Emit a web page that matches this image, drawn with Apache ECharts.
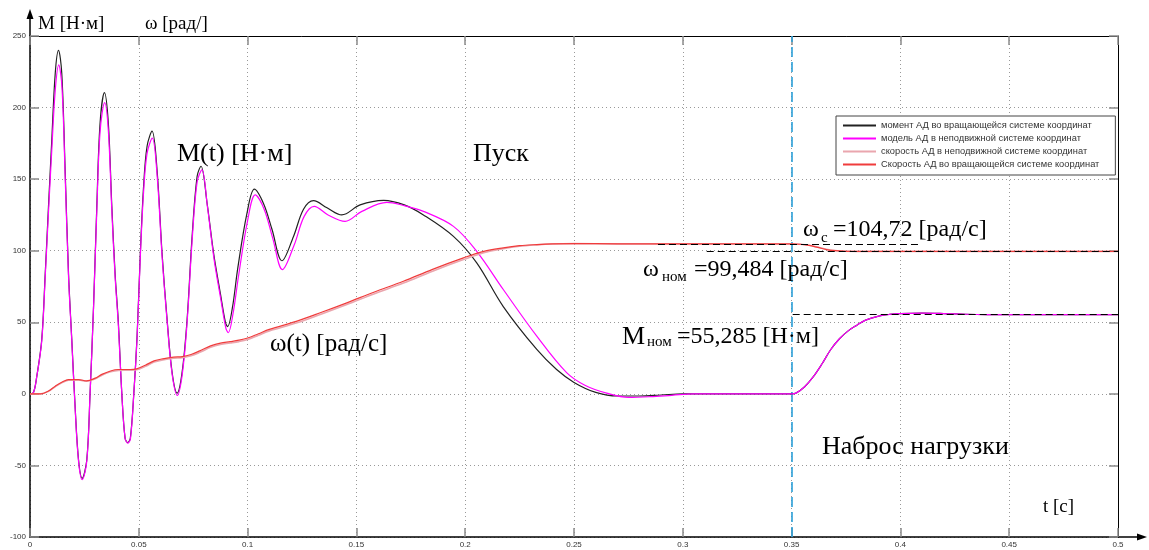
<!DOCTYPE html>
<html>
<head>
<meta charset="utf-8">
<title>Пуск и наброс нагрузки АД</title>
<script src="https://cdn.jsdelivr.net/npm/echarts@6/dist/echarts.min.js"></script>
<style>
  html, body { margin: 0; padding: 0; background: #fff; }
  #main { width: 1149px; height: 550px; }
</style>
</head>
<body>
<div id="main"></div>
<script>
// время и значения, снятые с графика
// момент АД во вращающейся системе координат [Н·м]
const momentT = [0, 0.0016, 0.0031, 0.0054, 0.0070, 0.0085, 0.0100, 0.0116, 0.0131, 0.0146, 0.0162, 0.0177, 0.0192, 0.0207, 0.0223, 0.0240, 0.0261, 0.0276, 0.0292, 0.0307, 0.0322, 0.0342, 0.0360, 0.0376, 0.0391, 0.0406, 0.0422, 0.0437, 0.0449, 0.0461, 0.0477, 0.0492, 0.0507, 0.0522, 0.0538, 0.0561, 0.0584, 0.0607, 0.0630, 0.0653, 0.0676, 0.0699, 0.0722, 0.0745, 0.0768, 0.0786, 0.0814, 0.0844, 0.0875, 0.0898, 0.0908, 0.0930, 0.0955, 0.0997, 0.1031, 0.1073, 0.1112, 0.1158, 0.1211, 0.1257, 0.1303, 0.1365, 0.1433, 0.1517, 0.1625, 0.1720, 0.1808, 0.1946, 0.2053, 0.2175, 0.2329, 0.2420, 0.2500, 0.2600, 0.2700, 0.2800, 0.2900, 0.3000, 0.3500, 0.3520, 0.3560, 0.3600, 0.3640, 0.3680, 0.3720, 0.3760, 0.3800, 0.3840, 0.3900, 0.3950, 0.4000, 0.4100, 0.4200, 0.4300, 0.4400, 0.5000];
const momentV = [0, 1, 12, 38, 84, 131, 177, 224, 240, 224, 154, 84, 38, -8, -46, -59, -46, 0, 61, 131, 189, 210.5, 189, 131, 84, 50, 0, -31, -34, -31, 0, 40, 98, 145, 173, 183.5, 156, 98, 52, 15, 0.5, 15, 52, 110, 152, 159, 133, 98, 70, 50, 47, 60, 88, 126, 143, 133, 115, 93, 110, 129, 135, 130, 125, 132, 135.2, 132, 125, 110, 91.5, 61, 31, 17, 8, 1, -1.5, -1.5, -0.8, 0, 0, 0.5, 5, 12, 21, 31, 38.5, 44, 48, 51.5, 54.3, 55.5, 56.1, 56.4, 56.1, 55.6, 55.4, 55.3];

// модель АД в неподвижной системе координат [Н·м]
const modelT = [0, 0.0016, 0.0031, 0.0054, 0.0070, 0.0085, 0.0100, 0.0116, 0.0132, 0.0147, 0.0162, 0.0177, 0.0192, 0.0207, 0.0223, 0.0240, 0.0261, 0.0276, 0.0292, 0.0307, 0.0322, 0.0343, 0.0360, 0.0376, 0.0391, 0.0406, 0.0422, 0.0437, 0.0450, 0.0462, 0.0477, 0.0492, 0.0507, 0.0522, 0.0538, 0.0562, 0.0584, 0.0607, 0.0630, 0.0653, 0.0677, 0.0700, 0.0722, 0.0745, 0.0768, 0.0790, 0.0816, 0.0846, 0.0877, 0.0900, 0.0911, 0.0933, 0.0958, 0.1000, 0.1035, 0.1076, 0.1115, 0.1160, 0.1214, 0.1260, 0.1306, 0.1370, 0.1448, 0.1525, 0.1640, 0.1720, 0.1808, 0.1946, 0.2053, 0.2175, 0.2329, 0.2466, 0.2550, 0.2650, 0.2750, 0.2850, 0.2950, 0.3050, 0.3500, 0.3520, 0.3560, 0.3600, 0.3640, 0.3680, 0.3720, 0.3760, 0.3800, 0.3840, 0.3900, 0.3950, 0.4000, 0.4100, 0.4200, 0.4300, 0.4400, 0.5000];
const modelV = [0, 1, 12, 37, 82, 127, 170, 212, 229.8, 214, 150, 82, 37, -9, -47, -60, -47, 0, 60, 128, 183, 203.5, 184, 128, 82, 48, 0, -31, -34.5, -31, 0, 39, 96, 141, 168, 178.6, 153, 96, 51, 14, -1, 14, 50, 107, 148, 156.5, 130, 94, 66, 46, 42.7, 56, 82, 121, 139, 129, 109, 86.8, 104, 124, 131, 125, 120.5, 127.5, 133.8, 131.5, 127.5, 117, 99.6, 72.9, 40.3, 14.8, 6, 0.5, -2.5, -2, -1, 0, 0, 0.5, 5, 12, 21, 31, 38.5, 44, 48, 51.5, 54.3, 55.5, 56.1, 56.4, 56.1, 55.6, 55.4, 55.3];

// скорость АД [рад/с]
const speedT = [0, 0.0050, 0.0085, 0.0116, 0.0150, 0.0177, 0.0223, 0.0260, 0.0300, 0.0330, 0.0370, 0.0406, 0.0460, 0.0490, 0.0530, 0.0570, 0.0610, 0.0660, 0.0700, 0.0740, 0.0780, 0.0830, 0.0875, 0.0920, 0.0960, 0.1000, 0.1050, 0.1100, 0.1227, 0.1340, 0.1456, 0.1580, 0.1716, 0.1850, 0.1992, 0.2085, 0.2175, 0.2250, 0.2329, 0.2400, 0.2500, 0.2700, 0.3500, 0.3540, 0.3580, 0.3620, 0.3660, 0.3700, 0.3750, 0.3800, 0.5000];
const speedRotV = [0, 0, 2, 5.4, 8.5, 10, 10, 9, 11, 13.6, 16, 17, 17, 17.5, 20, 23, 24.5, 25.7, 26, 27.5, 30, 33.5, 35.5, 36.5, 37.5, 39, 42, 45, 50.8, 57, 63.6, 71, 78.7, 87, 95, 99.5, 102, 103.5, 104.3, 104.8, 105, 104.8, 104.72, 104.5, 103.7, 102.3, 100.8, 100, 99.6, 99.5, 99.48];
const speedStatV = [0, 0, 1.8, 5, 8, 9.6, 9.7, 8.8, 10.5, 13, 15.4, 16.4, 16.5, 16.8, 19.2, 22.2, 23.7, 24.9, 25.3, 26.6, 29, 32.5, 34.5, 35.5, 36.5, 38, 41, 44, 49.6, 55.8, 62.4, 69.8, 77.4, 85.7, 93.8, 98.6, 101.4, 103.1, 104.1, 104.7, 105, 104.8, 104.72, 104.5, 103.8, 102.5, 101, 100.1, 99.6, 99.5, 99.48];

// уровни для пунктирных линий
const omegaSync = 104.72;
const omegaNom = 99.484;
const momentNom = 55.285;
const loadTime = 0.35;

const xTicks = { min: 0, max: 0.5, interval: 0.05 };
const yTicks = { min: -100, max: 250, interval: 50 };

function pairs (t, v) {
  return t.map(function (x, i) { return [x, v[i]] })
}

const serif = '"Liberation Serif", "Times New Roman", serif';
function txt (x, y, text, size) {
  return {
    type: 'text',
    x: x,
    y: y,
    z: 100,
    style: {
      text: text,
      font: size + 'px ' + serif,
      fill: '#000',
      align: 'left',
      textAlign: 'left',
      verticalAlign: 'middle',
      textVerticalAlign: 'middle'
    }
  }
}

const grid = { left: 30, right: 31, top: 36, bottom: 13 };
const gridLine = { color: '#999', type: [1, 3], width: 1 };
const tickStyle = { show: true, inside: true, length: 9, lineStyle: { color: '#8a8a8a', width: 1.5 } };

const chart = echarts.init(document.getElementById('main'));
chart.setOption({
  animation: false,
  backgroundColor: '#fff',
  grid: grid,
  legend: {
    orient: 'vertical',
    left: 836,
    top: 116,
    width: 280,
    backgroundColor: '#fff',
    borderColor: '#444',
    borderWidth: 1,
    borderRadius: 0,
    padding: [5, 16, 6, 7],
    itemGap: 4,
    itemWidth: 33,
    itemHeight: 2,
    icon: 'rect',
    textStyle: { fontFamily: '"Liberation Sans", Arial, sans-serif', fontSize: 9.3, color: '#333' },
    data: [
      'момент АД во вращающейся системе координат',
      'модель АД в неподвижной системе координат',
      'скорость АД в неподвижной системе координат',
      'Скорость АД во вращающейся системе координат'
    ]
  },
  xAxis: [{
    type: 'value',
    position: 'bottom',
    min: xTicks.min,
    max: xTicks.max,
    interval: xTicks.interval,
    axisLine: { show: true, onZero: false, lineStyle: { color: '#000', width: 1.5 } },
    axisTick: tickStyle,
    axisLabel: { fontSize: 8, color: '#333', margin: 4, fontFamily: '"Liberation Sans", Arial, sans-serif' },
    splitLine: { show: true, lineStyle: gridLine }
  }, {
    type: 'value',
    position: 'top',
    min: xTicks.min,
    max: xTicks.max,
    interval: xTicks.interval,
    axisLine: { show: true, onZero: false, lineStyle: { color: '#000', width: 1 } },
    axisTick: tickStyle,
    axisLabel: { show: false },
    splitLine: { show: false }
  }],
  yAxis: [{
    type: 'value',
    position: 'left',
    min: yTicks.min,
    max: yTicks.max,
    interval: yTicks.interval,
    axisLine: { show: true, onZero: false, lineStyle: { color: '#000', width: 1.5 } },
    axisTick: tickStyle,
    axisLabel: { fontSize: 8, color: '#333', margin: 4, fontFamily: '"Liberation Sans", Arial, sans-serif' },
    splitLine: { show: true, lineStyle: gridLine }
  }, {
    type: 'value',
    position: 'right',
    min: yTicks.min,
    max: yTicks.max,
    interval: yTicks.interval,
    axisLine: { show: true, onZero: false, lineStyle: { color: '#000', width: 1 } },
    axisTick: tickStyle,
    axisLabel: { show: false },
    splitLine: { show: false }
  }],
  series: [{
    name: 'момент АД во вращающейся системе координат',
    type: 'line',
    data: pairs(momentT, momentV),
    smooth: 0.35,
    showSymbol: false,
    color: '#222',
    lineStyle: { color: '#222', width: 1.2 },
    z: 2,
    markLine: {
      silent: true,
      symbol: 'none',
      label: { show: false },
      z: 1,
      lineStyle: { color: '#2b9fd8', type: [10, 5], width: 1.6 },
      data: [{ xAxis: loadTime }]
    }
  }, {
    name: 'модель АД в неподвижной системе координат',
    type: 'line',
    data: pairs(modelT, modelV),
    smooth: 0.35,
    showSymbol: false,
    color: '#ff00ff',
    lineStyle: { color: '#ff00ff', width: 1.2 },
    z: 3
  }, {
    name: 'скорость АД в неподвижной системе координат',
    type: 'line',
    data: pairs(speedT, speedStatV),
    smooth: 0.35,
    showSymbol: false,
    color: '#eaa6ae',
    lineStyle: { color: '#eaa6ae', width: 1.6 },
    z: 4
  }, {
    name: 'Скорость АД во вращающейся системе координат',
    type: 'line',
    data: pairs(speedT, speedRotV),
    smooth: 0.35,
    showSymbol: false,
    color: '#f03c3c',
    lineStyle: { color: '#f03c3c', width: 1.2 },
    z: 5,
    markLine: {
      silent: true,
      symbol: 'none',
      label: { show: false },
      z: 10,
      lineStyle: { color: '#000', type: [7, 4], width: 1 },
      data: [
        [{ coord: [0.2886, omegaSync] }, { coord: [0.4098, omegaSync] }],
        [{ coord: [0.3110, omegaNom] }, { coord: [0.5, omegaNom] }],
        [{ coord: [0.3505, momentNom] }, { coord: [0.5, momentNom] }]
      ]
    }
  }],
  graphic: [
    // продолжения осей со стрелками
    { type: 'line', shape: { x1: 30, y1: 36, x2: 30, y2: 16 }, style: { stroke: '#000', lineWidth: 1.5 } },
    { type: 'polygon', shape: { points: [[30, 9], [26.5, 19], [33.5, 19]] }, style: { fill: '#000' } },
    { type: 'line', shape: { x1: 1118, y1: 537, x2: 1140, y2: 537 }, style: { stroke: '#000', lineWidth: 1.5 } },
    { type: 'polygon', shape: { points: [[1147, 537], [1137, 533.5], [1137, 540.5]] }, style: { fill: '#000' } },
    txt(38, 24, 'M [Н·м]', 19),
    txt(145, 24, 'ω [рад/]', 19),
    txt(177, 154.5, 'M(t) [Н·м]', 26),
    txt(473, 154, 'Пуск', 26),
    txt(270, 344, 'ω(t) [рад/с]', 25),
    txt(822, 447, 'Наброс нагрузки', 26),
    txt(1043, 507.5, 't [c]', 19),
    txt(803, 230, 'ω', 24),
    txt(821, 238.5, 'c', 15),
    txt(833, 230, '=104,72 [рад/с]', 24),
    txt(643, 270, 'ω', 24),
    txt(662, 277, 'ном', 15),
    txt(694, 270, '=99,484 [рад/с]', 24),
    txt(622, 337, 'M', 26),
    txt(647, 342, 'ном', 15),
    txt(677, 337, '=55,285 [Н·м]', 24)
  ]
});
</script>
</body>
</html>
